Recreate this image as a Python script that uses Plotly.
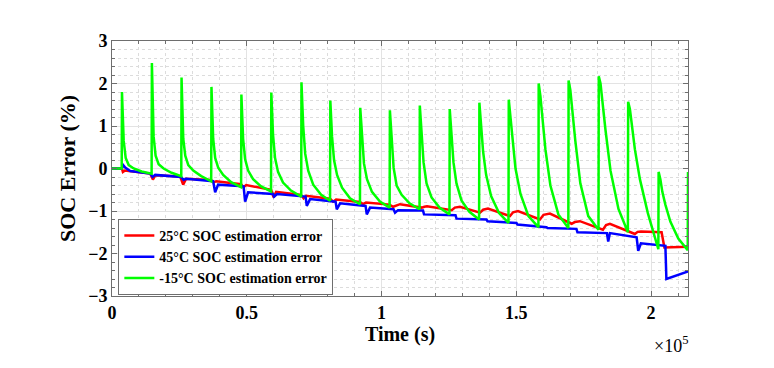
import plotly.graph_objects as go

# ---- data ----
red_t = [0, 3670, 4040, 4710, 14160, 15170, 16020, 25290, 26400, 27510, 36780, 37710, 38640,
         47910, 48830, 49760, 59030, 59960, 60890, 70150, 71080, 72010, 80910, 82020, 83130,
         92030, 93140, 94260, 102970, 104270, 106860, 114910, 115900, 116880, 126040, 127200, 129110,
         136530, 137700, 139500, 147650, 148800, 150620, 158770, 160100, 162480, 170530, 171700, 173600,
         182140, 183300, 184730, 194000, 195000, 196230, 203900, 204940, 213770]
red_v = [0.00, 0.00, -0.08, -0.05, -0.12, -0.26, -0.16, -0.19, -0.38, -0.24, -0.27, -0.33, -0.30,
         -0.37, -0.44, -0.39, -0.50, -0.68, -0.55, -0.62, -0.70, -0.64, -0.71, -0.78, -0.73,
         -0.79, -0.84, -0.80, -0.85, -0.90, -0.84, -0.92, -0.90, -0.89, -0.98, -0.92, -0.90,
         -1.04, -0.97, -0.94, -1.12, -1.03, -1.00, -1.20, -1.09, -1.06, -1.30, -1.26, -1.24,
         -1.44, -1.33, -1.30, -1.54, -1.49, -1.48, -1.50, -1.86, -1.84]

blue_t = [0, 3600, 4150, 4900, 6750, 14160, 15090, 16020, 25660, 26590, 27510, 37530, 38270, 39380,
          48830, 49390, 50500, 59770, 60140, 61260, 71820, 72270, 73490, 82950, 83390, 84620,
          94070, 94520, 95740, 104450, 105010, 106120, 115390, 115760, 127440, 127810, 138940, 139310,
          150060, 150430, 161180, 161550, 172310, 172680, 183620, 184100, 184730, 194640, 195230, 196230,
          205310, 205680, 213770]
blue_v = [0.00, 0.00, 0.08, 0.02, -0.06, -0.12, -0.20, -0.15, -0.20, -0.27, -0.24, -0.30, -0.56, -0.38,
          -0.42, -0.78, -0.56, -0.60, -0.66, -0.60, -0.66, -0.88, -0.72, -0.78, -0.96, -0.82,
          -0.88, -1.08, -0.92, -0.96, -1.04, -0.98, -0.99, -1.08, -1.10, -1.18, -1.20, -1.24,
          -1.28, -1.32, -1.38, -1.40, -1.42, -1.50, -1.52, -1.72, -1.52, -1.62, -1.94, -1.76,
          -1.82, -2.60, -2.42]

spike_t = [3600, 14700, 25700, 36800, 47900, 59000, 70200, 80900, 92000, 103000,
           114100, 125200, 136200, 147100, 158200, 169300, 180500, 191400, 202700, 213600]
valley_v = [0.00, -0.12, -0.18, -0.30, -0.44, -0.54, -0.66, -0.76, -0.84, -0.92,
            -0.96, -1.08, -1.20, -1.28, -1.38, -1.40, -1.44, -1.50, -1.90, -1.92]
peak_v = [1.80, 2.48, 2.14, 1.92, 1.74, 1.79, 2.03, 1.60, 1.43, 1.37,
          1.48, 1.40, 1.55, 1.62, 2.00, 2.07, 2.17, 1.57, -0.08, -0.08]
decay_off = [740, 1480, 2600, 4450, 7400]
decay_v = [
    [0.65, 0.25, 0.08, 0.00, -0.07],
    [0.75, 0.30, 0.10, 0.00, -0.10],
    [0.70, 0.30, 0.08, -0.05, -0.18],
    [0.70, 0.25, 0.02, -0.15, -0.32],
    [0.70, 0.22, -0.05, -0.25, -0.42],
    [0.80, 0.25, -0.08, -0.33, -0.52],
    [1.00, 0.35, -0.05, -0.38, -0.62],
    [0.75, 0.20, -0.15, -0.45, -0.70],
    [0.70, 0.12, -0.25, -0.55, -0.78],
    [0.60, 0.02, -0.40, -0.62, -0.82],
    [0.80, 0.15, -0.35, -0.68, -0.92],
    [0.80, 0.15, -0.35, -0.75, -1.02],
    [1.00, 0.40, -0.15, -0.65, -1.05],
    [1.20, 0.62, 0.00, -0.60, -1.12],
    [1.70, 1.15, 0.45, -0.40, -1.08],
    [1.85, 1.35, 0.65, -0.35, -1.12],
    [2.00, 1.55, 0.90, -0.05, -0.95],
    [1.40, 1.00, 0.45, -0.25, -1.05],
    [-0.25, -0.55, -0.85, -1.25, -1.65],
]

x_tickvals = [0, 50000, 100000, 150000, 200000]
x_ticktext = ["0", "0.5", "1", "1.5", "2"]
y_tickvals = [-3, -2, -1, 0, 1, 2, 3]

# ---- build green series from the read points ----
gx, gy = [0], [0.0]
for k, t in enumerate(spike_t):
    gx += [t, t + 100]
    gy += [valley_v[k], peak_v[k]]
    if k < len(decay_v):
        for off, v in zip(decay_off, decay_v[k]):
            gx.append(t + off)
            gy.append(v)

FONT = "Liberation Serif"
fig = go.Figure()
fig.add_trace(go.Scatter(x=red_t, y=red_v, mode="lines", line=dict(color="#ff0000", width=2.5),
                         name="25\u00b0C SOC estimation error"))
fig.add_trace(go.Scatter(x=blue_t, y=blue_v, mode="lines", line=dict(color="#0000ff", width=2.5),
                         name="45\u00b0C SOC estimation error"))
fig.add_trace(go.Scatter(x=gx, y=gy, mode="lines", line=dict(color="#00ff00", width=2.5),
                         name="-15\u00b0C SOC estimation error"))

axis_common = dict(
    showline=True, linecolor="#6e6e6e", linewidth=1, mirror="ticks",
    ticks="inside", ticklen=5, tickcolor="#6e6e6e", tickwidth=1,
    showgrid=True, gridcolor="#e3e3e3", gridwidth=1, zeroline=False,
    automargin=False,
    tickfont=dict(family=FONT, size=18, color="black", weight="bold"),
)
fig.update_xaxes(
    range=[0, 213700], tickmode="array", tickvals=x_tickvals, ticktext=x_ticktext,
    minor=dict(tick0=0, dtick=10000, ticklen=3, tickcolor="#6e6e6e", ticks="inside",
               showgrid=True, gridcolor="#dcdcdc", griddash="dot"),
    title=dict(text="Time (s)", font=dict(family=FONT, size=20, color="black", weight="bold"), standoff=4),
    **axis_common)
fig.update_yaxes(
    range=[-3, 3], tickmode="array", tickvals=y_tickvals,
    minor=dict(tick0=0, dtick=0.2, ticklen=3, tickcolor="#6e6e6e", ticks="inside",
               showgrid=True, gridcolor="#dcdcdc", griddash="dot"),
    title=dict(text="SOC Error (%)", font=dict(family=FONT, size=22, color="black", weight="bold"), standoff=6),
    **axis_common)

fig.add_annotation(x=1.004, y=-0.19, xref="paper", yref="paper", xanchor="right", yanchor="middle",
                   text="\u00d710<sup>5</sup>", showarrow=False,
                   font=dict(family=FONT, size=18, color="black"))

# page body has an 8px default margin, so the figure is sized/offset to land the plot area in place
fig.update_layout(
    width=766, height=360,
    margin=dict(l=104, r=86, t=33, b=72, autoexpand=False),
    paper_bgcolor="white", plot_bgcolor="white",
    showlegend=True,
    legend=dict(x=0.011, y=0.004, xanchor="left", yanchor="bottom",
                bgcolor="white", bordercolor="#6e6e6e", borderwidth=1,
                font=dict(family=FONT, size=14, color="black", weight="bold"),
                tracegroupgap=0, itemwidth=30),
)

fig.write_html("out.html")
